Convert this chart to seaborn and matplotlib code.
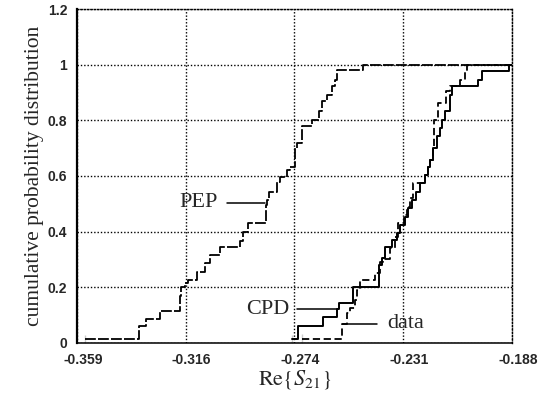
import numpy as np
import matplotlib
matplotlib.use("Agg")
import matplotlib.pyplot as plt
import matplotlib.transforms as mtransforms
import seaborn as sns

# step positions (Re{S21}) and cumulative levels
pep_x = [-0.3557, -0.3345, -0.3319, -0.3263, -0.3184, -0.3180, -0.3167, -0.3154,
         -0.3118, -0.3086, -0.3068, -0.3027, -0.2949, -0.2936, -0.2917, -0.2847,
         -0.2842, -0.2834, -0.2805, -0.2792, -0.2763, -0.2753, -0.2733, -0.2724,
         -0.2707, -0.2667, -0.2638, -0.2628, -0.2608, -0.2589, -0.2576, -0.2567,
         -0.2465]
pep_p = [0.029, 0.059, 0.086, 0.116, 0.167, 0.200, 0.216, 0.227,
         0.256, 0.288, 0.317, 0.343, 0.368, 0.398, 0.430, 0.496,
         0.514, 0.544, 0.578, 0.598, 0.622, 0.634, 0.700, 0.718,
         0.778, 0.800, 0.832, 0.868, 0.892, 0.922, 0.946, 0.980,
         1.000]

cpd_x = [-0.2746, -0.2720, -0.2624, -0.2567, -0.2559, -0.2504, -0.2402, -0.2392,
         -0.2377, -0.2353, -0.2333, -0.2320, -0.2301, -0.2288, -0.2274, -0.2255,
         -0.2242, -0.2222, -0.2209, -0.2202, -0.2189, -0.2176, -0.2163, -0.2154,
         -0.2143, -0.2124, -0.2115, -0.2012, -0.1999, -0.1892]
cpd_p = [0.030, 0.061, 0.092, 0.121, 0.145, 0.200, 0.280, 0.305,
         0.343, 0.370, 0.394, 0.424, 0.454, 0.484, 0.514, 0.544,
         0.574, 0.604, 0.634, 0.658, 0.700, 0.742, 0.772, 0.802,
         0.832, 0.892, 0.922, 0.946, 0.976, 1.000]

data_x = [-0.2707, -0.2549, -0.2530, -0.2517, -0.2497, -0.2489, -0.2478, -0.2419,
          -0.2399, -0.2387, -0.2360, -0.2340, -0.2327, -0.2303, -0.2294, -0.2281,
          -0.2268, -0.2222, -0.2209, -0.2202, -0.2189, -0.2185, -0.2170, -0.2139,
          -0.2124, -0.2084, -0.2065, -0.2056]
data_p = [0.031, 0.068, 0.107, 0.125, 0.155, 0.190, 0.227, 0.250,
          0.290, 0.300, 0.340, 0.380, 0.431, 0.460, 0.490, 0.520,
          0.574, 0.604, 0.634, 0.658, 0.700, 0.800, 0.862, 0.904,
          0.922, 0.946, 0.976, 1.000]

x_min, x_max = -0.359, -0.188
x_ticks = np.linspace(x_min, x_max, 5)
x_ticklabels = ["-0.359", "-0.316", "-0.274", "-0.231", "-0.188"]
y_ticks = [0, 0.2, 0.4, 0.6, 0.8, 1.0, 1.2]
y_ticklabels = ["0", "0.2", "0.4", "0.6", "0.8", "1", "1.2"]

sns.set_style("white")
plt.rcParams["font.family"] = ["Liberation Serif", "DejaVu Serif"]
plt.rcParams["mathtext.fontset"] = "stix"


def step_curve(xs, ps):
    # start from zero at the first sample and run on to the right edge at 1
    sx = [xs[0]] + list(xs) + [x_max]
    sy = [0.0] + list(ps) + [ps[-1]]
    return sx, sy


fig, ax = plt.subplots(figsize=(5.6, 3.95), dpi=100)
fig.subplots_adjust(left=0.1375, right=0.914, top=0.977, bottom=0.132)

x, y = step_curve(pep_x, pep_p)
sns.lineplot(x=x, y=y, ax=ax, color="black", lw=1.3, sort=False,
             drawstyle="steps-post", linestyle=(0, (6, 1.2)))
x, y = step_curve(cpd_x, cpd_p)
sns.lineplot(x=x, y=y, ax=ax, color="black", lw=1.4, sort=False,
             drawstyle="steps-post")
x, y = step_curve(data_x, data_p)
sns.lineplot(x=x, y=y, ax=ax, color="black", lw=1.3, sort=False,
             drawstyle="steps-post", linestyle=(0, (4, 2)))

ax.set_xlim(x_min, x_max)
ax.set_ylim(0, 1.2)
ax.set_xticks(x_ticks)
ax.set_xticklabels(x_ticklabels)
ax.set_yticks(y_ticks)
ax.set_yticklabels(y_ticklabels)
for lab in ax.get_xticklabels() + ax.get_yticklabels():
    lab.set_fontfamily("Liberation Sans")
    lab.set_fontweight("bold")
    lab.set_fontsize(10)
ax.tick_params(axis="x", length=0, pad=7)
ax.tick_params(axis="y", length=0, pad=7)
# the scanned x labels sit a few pixels right of their grid lines
shift = mtransforms.ScaledTranslation(0.06, 0, fig.dpi_scale_trans)
for lab in ax.get_xticklabels():
    lab.set_transform(lab.get_transform() + shift)

ax.grid(True, color="black", linestyle=(0, (1, 1.4)), lw=1.0)
for side in ["top", "right"]:
    ax.spines[side].set_linestyle((0, (1, 1.4)))
    ax.spines[side].set_linewidth(1.0)
ax.spines["left"].set_linewidth(1.6)
ax.spines["bottom"].set_linewidth(1.1)
for sp in ax.spines.values():
    sp.set_color("black")

ax.set_xlabel(r"$\mathrm{Re}\{S_{21}\}$", fontsize=16, labelpad=1)
ax.set_ylabel("cumulative probability distribution", fontsize=15.5, labelpad=3)

# curve labels with leader lines
ax.text(-0.3036, 0.504, "PEP", fontsize=16, ha="right", va="center")
ax.plot([-0.3000, -0.2849], [0.504, 0.504], color="black", lw=1.1)
ax.text(-0.2753, 0.119, "CPD", fontsize=16, ha="right", va="center")
ax.plot([-0.2725, -0.2568], [0.121, 0.121], color="black", lw=1.1)
ax.text(-0.2371, 0.068, "data", fontsize=16, ha="left", va="center")
ax.plot([-0.2544, -0.2411], [0.068, 0.068], color="black", lw=1.1)

fig.savefig("out.png", dpi=100)
